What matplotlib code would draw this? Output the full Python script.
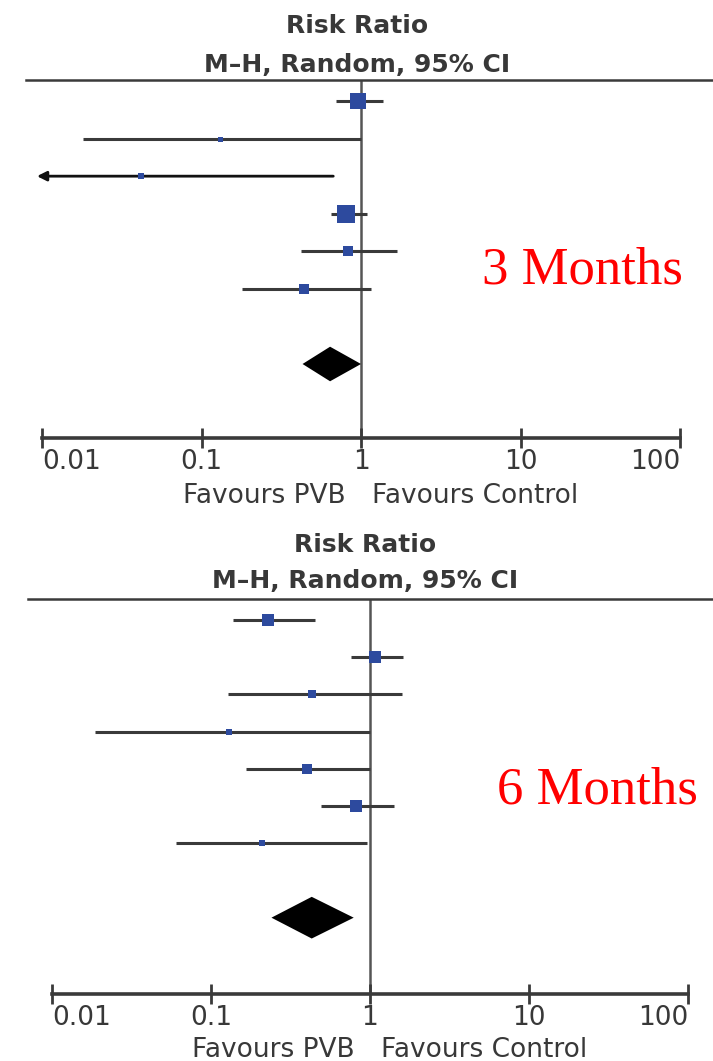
import matplotlib
matplotlib.use("Agg")
import matplotlib.pyplot as plt
from matplotlib.lines import Line2D

# 3 month studies (risk ratio, 95% CI, weight %)
rr_3m = [0.96, 0.13, 0.042, 0.81, 0.83, 0.44]
lo_3m = [0.70, 0.018, 0.005, 0.65, 0.42, 0.18]
hi_3m = [1.37, 1.0, 0.67, 1.09, 1.68, 1.15]
w_3m = [30, 2, 6, 32, 14, 14]
pooled_3m = [0.64, 0.43, 1.0]

# 6 month studies
rr_6m = [0.227, 1.07, 0.43, 0.13, 0.40, 0.82, 0.21]
lo_6m = [0.137, 0.76, 0.128, 0.0186, 0.166, 0.49, 0.06]
hi_6m = [0.45, 1.61, 1.58, 1.0, 1.0, 1.41, 0.96]
w_6m = [18, 18, 10, 6, 15, 18, 6]
pooled_6m = [0.43, 0.24, 0.79]

ticks = [0.01, 0.1, 1, 10, 100]
tick_labels = ["0.01", "0.1", "1", "10", "100"]

W, H = 713, 1061
fig = plt.figure(figsize=(W / 100, H / 100), dpi=100)

BLUE = "#2d4a9e"
LINE = "#3a3a3a"
TXT = "#383838"
FONT = "DejaVu Sans"


def fx(px):
    return px / W


def fy(py):
    return 1 - py / H


def panel(left, right, top, bottom, line_l, hdr_x, hdr_base, rr, lo, hi, w, pooled,
          ymax, dh, fav_y, label, label_xy):
    ax = fig.add_axes([fx(left), fy(bottom), (right - left) / W, (bottom - top) / H])
    ax.set_xscale("log")
    ax.set_xlim(0.01, 100)
    n = len(rr)
    ax.set_ylim(ymax, -0.56)
    for s in ["top", "left", "right"]:
        ax.spines[s].set_visible(False)
    ax.spines["bottom"].set_linewidth(2.6)
    ax.spines["bottom"].set_color(LINE)
    ax.set_yticks([])
    ax.set_xticks(ticks)
    ax.minorticks_off()
    ax.tick_params(axis="x", direction="inout", length=14, width=2.0, color=LINE,
                   pad=1, labelsize=19, labelcolor=TXT)
    ax.set_xticklabels(tick_labels, fontfamily=FONT)
    labs = ax.get_xticklabels()
    labs[0].set_horizontalalignment("left")
    labs[-1].set_horizontalalignment("right")

    ax.axvline(1, color="#555555", lw=1.8, zorder=1)

    for i in range(n):
        if lo[i] < 0.01:
            ax.annotate("", xy=(0.0093, i), xytext=(hi[i], i),
                        arrowprops=dict(arrowstyle="-|>", lw=2.0, color="#111111",
                                        mutation_scale=14, shrinkA=0, shrinkB=0),
                        annotation_clip=False)
        else:
            ax.plot([lo[i], hi[i]], [i, i], color=LINE, lw=2.2, solid_capstyle="butt", zorder=2)
        ax.plot(rr[i], i, marker="s", color=BLUE, markersize=3 + w[i] * 0.3,
                markeredgewidth=0, zorder=3)

    yd = n + 1
    m, a, b = pooled
    ax.fill([a, m, b, m], [yd, yd - dh, yd, yd + dh], color="black", lw=0, zorder=3)

    # header line and titles
    fig.add_artist(Line2D([fx(line_l), 1], [fy(top), fy(top)], color=LINE, lw=1.8))
    fig.text(fx(hdr_x), fy(hdr_base[0]), "Risk Ratio", ha="center", va="baseline",
             fontsize=18, fontweight="bold", color=TXT, fontfamily=FONT)
    fig.text(fx(hdr_x), fy(hdr_base[1]), "M\u2013H, Random, 95% CI", ha="center",
             va="baseline", fontsize=18, fontweight="bold", color=TXT, fontfamily=FONT)

    # favours labels around the line of no effect
    one_px = left + (right - left) / 2
    fig.text(fx(one_px - 15), fy(fav_y), "Favours PVB", ha="right", va="baseline",
             fontsize=19, color=TXT, fontfamily=FONT)
    fig.text(fx(one_px + 11), fy(fav_y), "Favours Control", ha="left", va="baseline",
             fontsize=19, color=TXT, fontfamily=FONT)

    fig.text(fx(label_xy[0]), fy(label_xy[1]), label, ha="left", va="baseline",
             fontsize=38, color="red", fontfamily="Liberation Serif")
    return ax


panel(42, 680, 80, 438, 26, 357, (33, 72), rr_3m, lo_3m, hi_3m, w_3m, pooled_3m,
      8.97, 0.46, 503, "3 Months", (482, 283))
panel(52, 688, 599, 994, 28, 365, (552, 588), rr_6m, lo_6m, hi_6m, w_6m, pooled_6m,
      10.05, 0.56, 1057, "6 Months", (497, 803))

fig.savefig("out.png", dpi=100)
